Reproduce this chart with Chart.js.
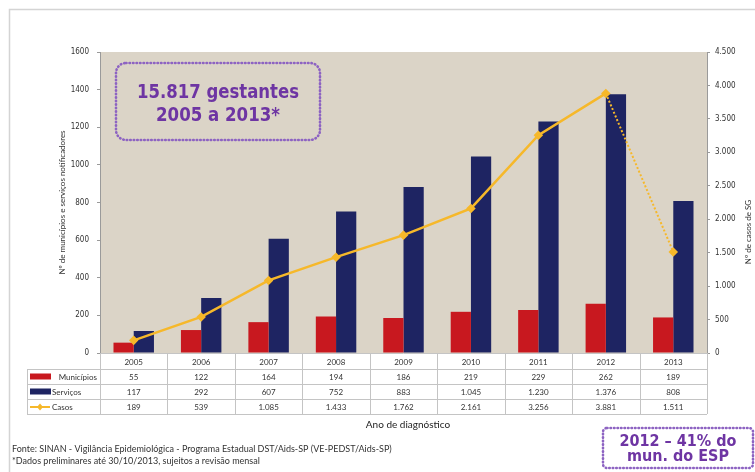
<!DOCTYPE html>
<html>
<head>
<meta charset="utf-8">
<script src="https://cdn.jsdelivr.net/npm/chart.js@4"></script>
<style>
  html, body { margin: 0; padding: 0; background: #fff; }
  #wrap { width: 755px; height: 472px; position: relative; }
</style>
</head>
<body>
<div id="wrap"><canvas id="grafico"></canvas></div>
<script>
const anos = ['2005', '2006', '2007', '2008', '2009', '2010', '2011', '2012', '2013'];
const municipios = [55, 122, 164, 194, 186, 219, 229, 262, 189];
const servicos = [117, 292, 607, 752, 883, 1045, 1230, 1376, 808];
const casos = [189, 539, 1085, 1433, 1762, 2161, 3256, 3881, 1511];

const VERMELHO = '#c8181f';
const AZUL = '#1e2462';
const AMARELO = '#f6b82a';
const ROXO = '#6e35a3';
const PONTILHADO = '#8d63c2';
const FONTE = 'Lato, "Open Sans", sans-serif';
const DESTAQUE = '"DejaVu Sans Condensed", "DejaVu Sans", sans-serif';
const EIXO = '"DejaVu Sans Condensed", "Liberation Sans Narrow", sans-serif';

function milhar(n) {
  return String(n).replace(/\B(?=(\d{3})+(?!\d))/g, '.');
}

// fundo bege da área de plotagem
const fundo = {
  id: 'fundo',
  beforeDraw(chart) {
    const { ctx, chartArea: a } = chart;
    ctx.save();
    ctx.fillStyle = '#fff';
    ctx.fillRect(0, 0, chart.width, chart.height);
    ctx.strokeStyle = '#d4d4d4';
    ctx.lineWidth = 1.5;
    ctx.strokeRect(9.5, 9.5, 800, 520);
    ctx.fillStyle = '#dbd4c7';
    ctx.fillRect(a.left, a.top, a.right - a.left, a.bottom - a.top);
    ctx.restore();
  }
};

function caixaPontilhada(ctx, x, y, w, h, r, fill) {
  ctx.beginPath();
  ctx.roundRect(x, y, w, h, r);
  if (fill) { ctx.fillStyle = fill; ctx.fill(); }
  ctx.setLineDash([0.5, 3]);
  ctx.lineCap = 'round';
  ctx.lineWidth = 2.6;
  ctx.strokeStyle = PONTILHADO;
  ctx.stroke();
  ctx.setLineDash([]);
}

// tabela de dados, títulos dos eixos e anotações
const tabela = {
  id: 'tabela',
  afterDraw(chart) {
    const { ctx, chartArea: a, scales } = chart;
    const x = scales.x;
    const larg = (a.right - a.left) / anos.length;
    const linhas = [a.bottom, 369, 384, 399, 414];
    const esq = 27;

    ctx.save();
    ctx.strokeStyle = '#c4c4c4';
    ctx.lineWidth = 1;
    ctx.beginPath();
    // linhas horizontais
    ctx.moveTo(a.left, linhas[0] + 0.5); ctx.lineTo(a.right, linhas[0] + 0.5);
    for (let i = 1; i < linhas.length; i++) {
      ctx.moveTo(esq, linhas[i] + 0.5); ctx.lineTo(a.right, linhas[i] + 0.5);
    }
    // linhas verticais
    ctx.moveTo(esq + 0.5, linhas[1]); ctx.lineTo(esq + 0.5, linhas[4]);
    for (let i = 0; i <= anos.length; i++) {
      const px = Math.round(a.left + i * larg) + 0.5;
      ctx.moveTo(px, linhas[0]); ctx.lineTo(px, linhas[4]);
    }
    ctx.stroke();

    ctx.fillStyle = '#333';
    ctx.font = '8px ' + FONTE;
    ctx.textAlign = 'center';
    ctx.textBaseline = 'middle';
    const series = [municipios, servicos, casos];
    anos.forEach((ano, i) => {
      const cx = x.getPixelForValue(i);
      ctx.fillText(ano, cx, (linhas[0] + linhas[1]) / 2 + 1);
      series.forEach((s, k) => {
        ctx.fillText(milhar(s[i]), cx, (linhas[k + 1] + linhas[k + 2]) / 2 + 1);
      });
    });

    // legenda na primeira coluna
    const meio = k => (linhas[k + 1] + linhas[k + 2]) / 2;
    ctx.fillStyle = VERMELHO;
    ctx.fillRect(30, meio(0) - 3, 21, 6);
    ctx.fillStyle = AZUL;
    ctx.fillRect(30, meio(1) - 3, 21, 6);
    ctx.strokeStyle = AMARELO;
    ctx.lineWidth = 2;
    ctx.beginPath();
    ctx.moveTo(30, meio(2) + 0.5); ctx.lineTo(50, meio(2) + 0.5);
    ctx.stroke();
    ctx.fillStyle = AMARELO;
    ctx.beginPath();
    ctx.moveTo(40, meio(2) - 3); ctx.lineTo(43, meio(2) + 0.5);
    ctx.lineTo(40, meio(2) + 4); ctx.lineTo(37, meio(2) + 0.5);
    ctx.fill();

    ctx.fillStyle = '#333';
    ctx.textAlign = 'right';
    ctx.fillText('Municípios', 97, meio(0) + 1);
    ctx.textAlign = 'left';
    ctx.fillText('Serviços', 52, meio(1) + 1);
    ctx.fillText('Casos', 52, meio(2) + 1);

    // título do eixo x
    ctx.font = '10px ' + FONTE;
    ctx.fillStyle = '#222';
    ctx.textAlign = 'center';
    ctx.fillText('Ano de diagnóstico', 408, 425);

    // títulos dos eixos y
    ctx.font = '8px ' + FONTE;
    ctx.fillStyle = '#333';
    ctx.save();
    ctx.translate(62, (a.top + a.bottom) / 2);
    ctx.rotate(-Math.PI / 2);
    ctx.fillText('Nº de municípios e serviços notificadores', 0, 0);
    ctx.restore();
    ctx.save();
    ctx.translate(748, 232);
    ctx.rotate(-Math.PI / 2);
    ctx.fillText('Nº de casos de SG', 0, 0);
    ctx.restore();

    // fonte
    ctx.textAlign = 'left';
    ctx.font = '9px ' + FONTE;
    ctx.fillStyle = '#333';
    ctx.fillText('Fonte: SINAN - Vigilância Epidemiológica - Programa Estadual DST/Aids-SP (VE-PEDST/Aids-SP)', 12, 449, 428);
    ctx.fillText('*Dados preliminares até 30/10/2013, sujeitos a revisão mensal', 12, 461, 272);

    // caixas de destaque
    caixaPontilhada(ctx, 116, 63, 204, 77, 10, null);
    ctx.fillStyle = ROXO;
    ctx.textAlign = 'center';
    ctx.font = 'bold 19px ' + DESTAQUE;
    ctx.fillText('15.817 gestantes', 218, 93, 162);
    ctx.fillText('2005 a 2013*', 218, 116, 124);

    caixaPontilhada(ctx, 603, 428, 150, 40, 4, '#fff');
    ctx.fillStyle = ROXO;
    ctx.font = 'bold 16px ' + DESTAQUE;
    ctx.fillText('2012 – 41% do', 678, 442, 126);
    ctx.fillText('mun. do ESP', 678, 457, 104);
    ctx.restore();
  }
};

new Chart(document.getElementById('grafico'), {
  type: 'bar',
  data: {
    labels: anos,
    datasets: [
      {
        label: 'Municípios',
        data: municipios,
        backgroundColor: VERMELHO,
        yAxisID: 'y',
        order: 2,
        categoryPercentage: 0.6,
        barPercentage: 1.0
      },
      {
        label: 'Serviços',
        data: servicos,
        backgroundColor: AZUL,
        yAxisID: 'y',
        order: 2,
        categoryPercentage: 0.6,
        barPercentage: 1.0
      },
      {
        type: 'line',
        label: 'Casos',
        data: casos,
        yAxisID: 'y1',
        order: 0,
        borderColor: AMARELO,
        backgroundColor: AMARELO,
        borderWidth: 2.5,
        pointStyle: 'rectRot',
        pointRadius: 3,
        pointHoverRadius: 3,
        tension: 0,
        segment: {
          borderDash: c => c.p1DataIndex === casos.length - 1 ? [2, 2] : undefined,
          borderWidth: c => c.p1DataIndex === casos.length - 1 ? 2 : undefined
        }
      }
    ]
  },
  options: {
    responsive: true,
    maintainAspectRatio: false,
    animation: false,
    events: [],
    layout: { padding: { left: 60, right: 0, top: 52, bottom: 119 } },
    plugins: {
      legend: { display: false },
      tooltip: { enabled: false }
    },
    scales: {
      x: {
        display: false,
        grid: { display: false }
      },
      y: {
        position: 'left',
        min: 0,
        max: 1600,
        afterFit: s => { s.width = 40; },
        border: { display: true, color: '#9a9a9a' },
        grid: { drawOnChartArea: false, drawTicks: true, tickLength: 3, color: '#9a9a9a' },
        ticks: {
          stepSize: 200,
          padding: 8,
          color: '#333',
          callback: v => String(v),
          font: { family: EIXO, size: 8 }
        }
      },
      y1: {
        position: 'right',
        min: 0,
        max: 4500,
        afterFit: s => { s.width = 48; },
        border: { display: true, color: '#9a9a9a' },
        grid: { drawOnChartArea: false, drawTicks: true, tickLength: 3, color: '#9a9a9a' },
        ticks: {
          stepSize: 500,
          padding: 5,
          color: '#333',
          callback: v => milhar(v),
          font: { family: EIXO, size: 8 }
        }
      }
    }
  },
  plugins: [fundo, tabela]
});
</script>
</body>
</html>
